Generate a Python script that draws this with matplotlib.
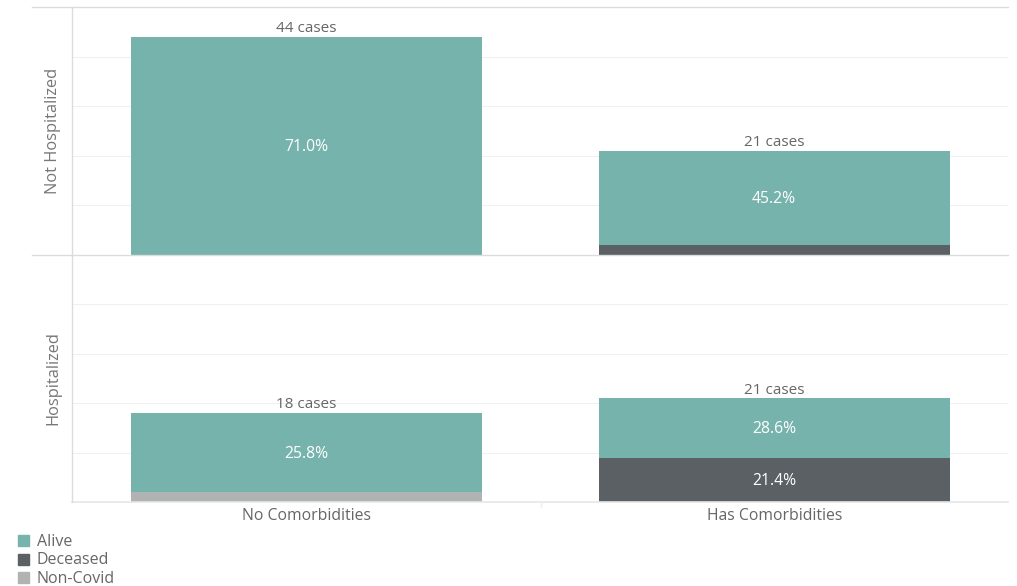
import matplotlib
matplotlib.use("Agg")
import matplotlib.pyplot as plt
from matplotlib.lines import Line2D

plt.rcParams['font.family'] = ['Open Sans', 'DejaVu Sans']

columns = ["No Comorbidities", "Has Comorbidities"]
rows = ["Not Hospitalized", "Hospitalized"]
statuses = ["Non-Covid", "Deceased", "Alive"]  # stacking order bottom -> top
legend_order = ["Alive", "Deceased", "Non-Covid"]
colors = {"Alive": "#76b3ac", "Deceased": "#5b6064", "Non-Covid": "#b0b3b2"}

# counts[row][status] -> values per column
counts = {
    "Not Hospitalized": {"Alive": [44, 19], "Deceased": [0, 2], "Non-Covid": [0, 0]},
    "Hospitalized": {"Alive": [16, 12], "Deceased": [0, 9], "Non-Covid": [2, 0]},
}

W, H = 1017, 586
fig = plt.figure(figsize=(W / 100, H / 100), dpi=100)

def fx(px):
    return px / W

def fy(py):
    return 1 - py / H

col_totals = [sum(counts[r][s][i] for r in rows for s in statuses) for i in range(len(columns))]

panels = [(7, 255), (255, 502)]
x_left, x_right = 72, 1008
grid_c = "#f0f0f0"
line_c = "#dcdcdc"
text_c = "#666666"

for r, (top, bot) in zip(rows, panels):
    ax = fig.add_axes([fx(x_left), fy(bot), fx(x_right - x_left), (bot - top) / H])
    ax.set_xlim(-0.5, len(columns) - 0.5)
    ax.set_ylim(0, 50)
    for sp in ax.spines.values():
        sp.set_visible(False)
    ax.set_xticks([])
    ax.set_yticks([])
    for g in [10, 20, 30, 40]:
        ax.axhline(g, color=grid_c, lw=0.8, zorder=0)
    bottoms = [0] * len(columns)
    for s in statuses:
        vals = counts[r][s]
        ax.bar(range(len(columns)), vals, width=0.75, bottom=bottoms,
               color=colors[s], zorder=2, edgecolor="none")
        for i, v in enumerate(vals):
            if v >= 5:
                pct = 100 * v / col_totals[i]
                ax.text(i, bottoms[i] + v / 2 - 0.2, f"{pct:.1f}%", color="white",
                        ha="center", va="center", fontsize=11.3, zorder=3)
        bottoms = [b + v for b, v in zip(bottoms, vals)]
    for i, t in enumerate(bottoms):
        ax.text(i, t + 0.15, f"{t} cases", color=text_c, ha="center",
                va="bottom", fontsize=11, zorder=3)
    fig.text(fx(53), fy((top + bot) / 2), r, rotation=90, ha="center",
             va="center", color="#777777", fontsize=11.8)

# frame lines
fig.add_artist(Line2D([fx(32), fx(x_right)], [fy(7), fy(7)], color=line_c, lw=1))
fig.add_artist(Line2D([fx(32), fx(x_right)], [fy(255), fy(255)], color=line_c, lw=1))
fig.add_artist(Line2D([fx(x_left), fx(x_right)], [fy(502), fy(502)], color="#e6e6e6", lw=1.2))
fig.add_artist(Line2D([fx(x_left), fx(x_left)], [fy(7), fy(502)], color=line_c, lw=1))
fig.add_artist(Line2D([fx(541), fx(541)], [fy(502), fy(507)], color="#eeeeee", lw=1))

# column labels
col_centers = [306, 775]
for c, cx in zip(columns, col_centers):
    fig.text(fx(cx), fy(516), c, ha="center", va="center", color=text_c, fontsize=11.3)

# legend
for k, s in enumerate(legend_order):
    y = 541 + k * 18.5
    fig.add_artist(plt.Rectangle((fx(18), fy(y + 5)), fx(11), 11 / H,
                                 color=colors[s], transform=fig.transFigure))
    fig.text(fx(37), fy(y + 1), s, ha="left", va="center", color=text_c, fontsize=11.5)

fig.savefig("out.png", dpi=100)
